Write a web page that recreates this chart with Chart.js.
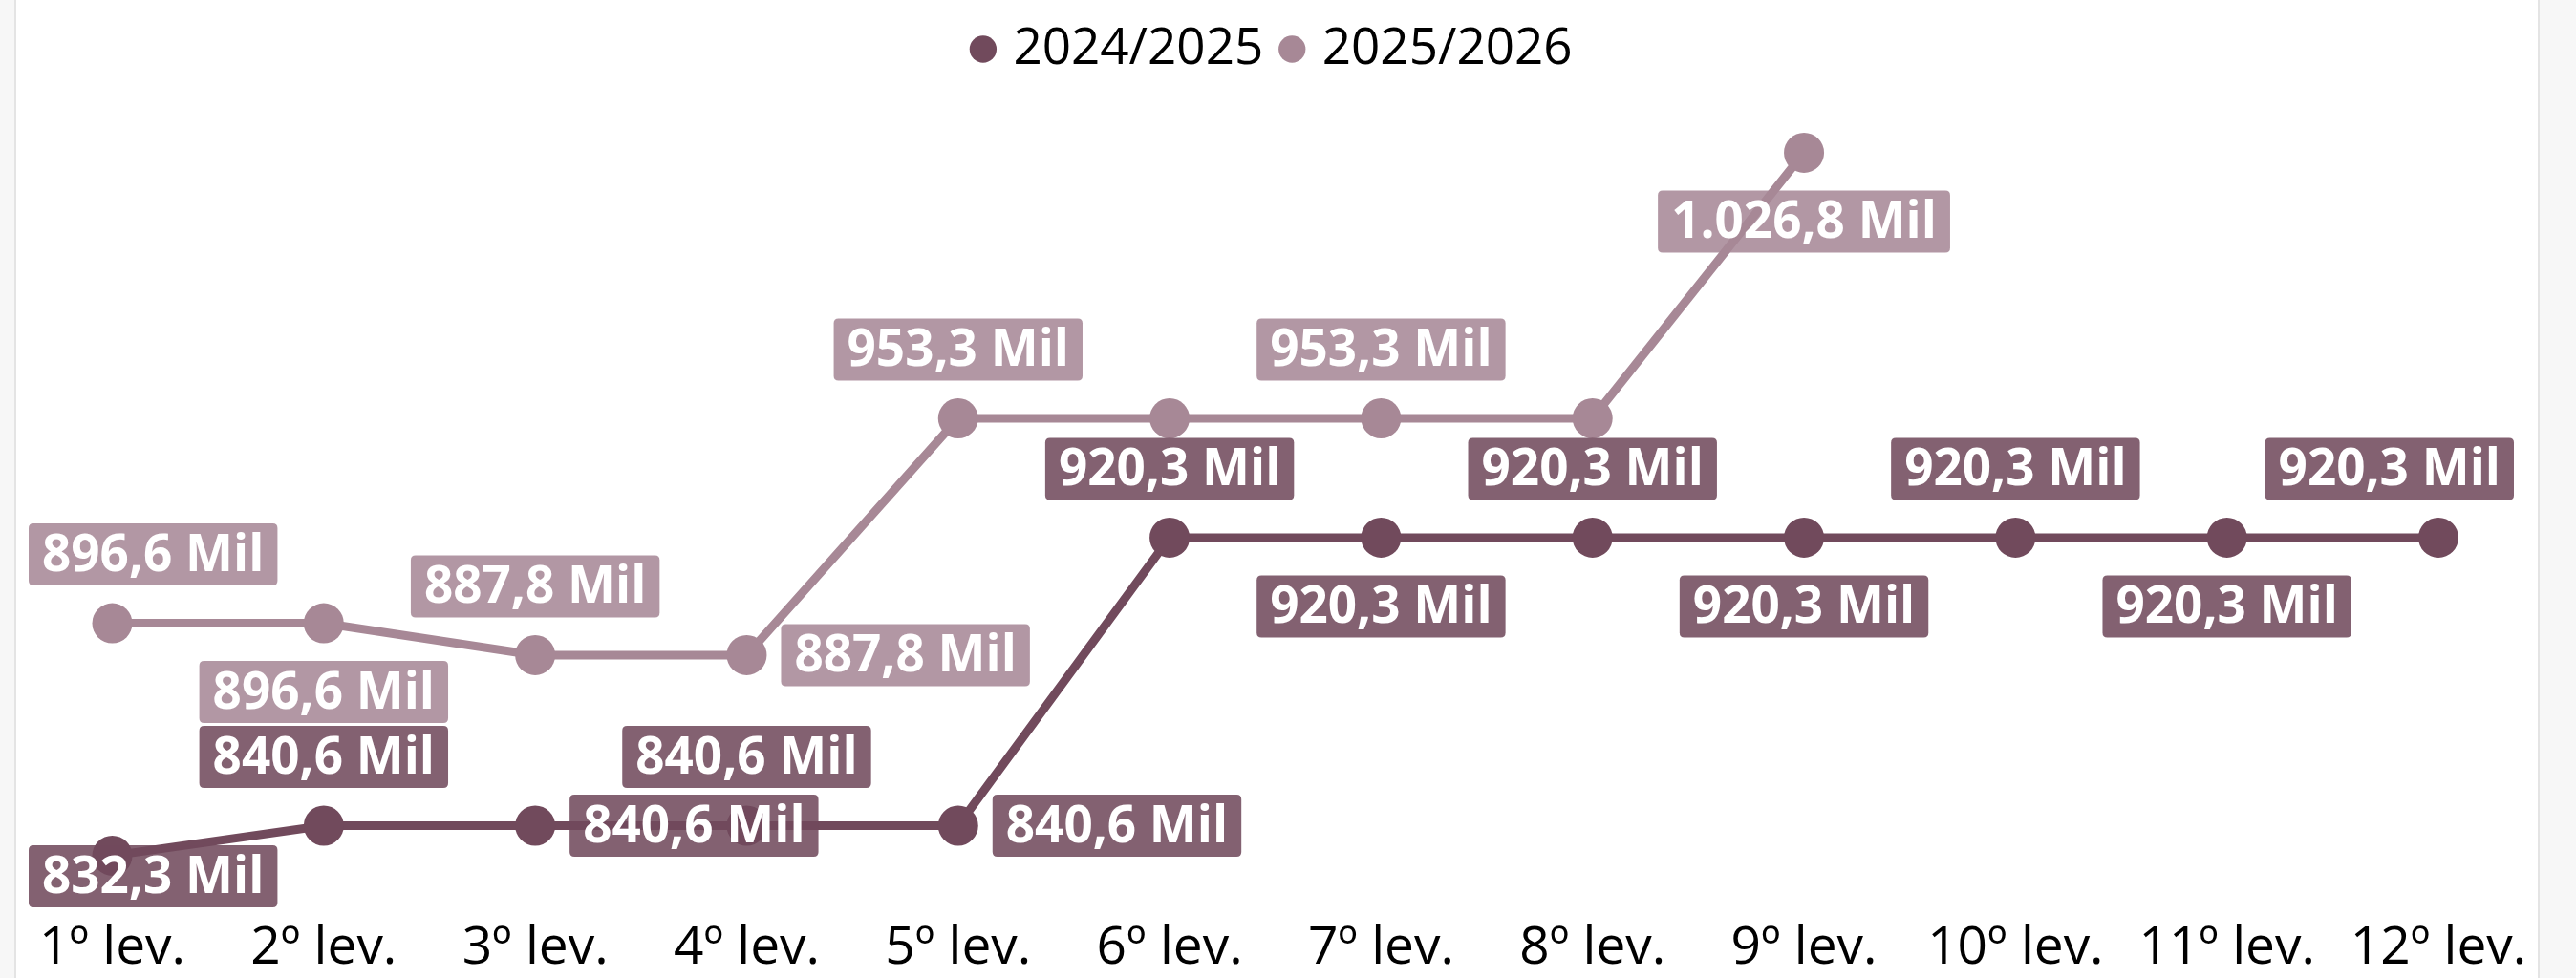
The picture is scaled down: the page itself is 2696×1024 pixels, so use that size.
<!DOCTYPE html>
<html>
<head>
<meta charset="utf-8">
<script src="https://cdn.jsdelivr.net/npm/chart.js@4.4.1/dist/chart.umd.min.js"></script>
<style>
    html, body { margin: 0; padding: 0; background: #f7f7f7; }
    #painel {
        position: absolute; left: 15px; top: 0; width: 2639px; height: 1024px;
        background: #fff; border-left: 2px solid #e4e4e4; border-right: 2px solid #e4e4e4;
    }
    #area { position: absolute; left: 0; top: 0; width: 2696px; height: 1024px; }
</style>
</head>
<body>
<div id="painel"></div>
<div id="area"><canvas id="grafico"></canvas></div>
<script>
// Dados
const levantamentos = ['1º lev.', '2º lev.', '3º lev.', '4º lev.', '5º lev.', '6º lev.',
    '7º lev.', '8º lev.', '9º lev.', '10º lev.', '11º lev.', '12º lev.'];
const safra2425 = [832.3, 840.6, 840.6, 840.6, 840.6, 920.3, 920.3, 920.3, 920.3, 920.3, 920.3, 920.3];
const safra2526 = [896.6, 896.6, 887.8, 887.8, 953.3, 953.3, 953.3, 953.3, 1026.8];

// Onde cada rótulo fica em relação ao ponto (null = rótulo oculto)
const rotulos2425 = ['below', 'above', 'right', 'above', 'right', 'above', 'below', 'above', 'below', 'above', 'below', 'above'];
const rotulos2526 = ['above', 'below', 'above', 'right', 'above', null, 'above', null, 'below'];

const corEscura = '#714a5c';
const corClara = '#a78896';
const caixaEscura = 'rgba(113, 74, 92, 0.87)';
const caixaClara = 'rgba(167, 136, 150, 0.87)';
const fonte = '"Open Sans", "Noto Sans", sans-serif';

// Formata no padrão brasileiro: 1.026,8 Mil
function formatarMil(v) {
    const partes = v.toFixed(1).split('.');
    const inteiro = partes[0].replace(/\B(?=(\d{3})+(?!\d))/g, '.');
    return inteiro + ',' + partes[1] + ' Mil';
}

function caixaArredondada(ctx, x, y, w, h, r) {
    ctx.beginPath();
    ctx.moveTo(x + r, y);
    ctx.lineTo(x + w - r, y);
    ctx.quadraticCurveTo(x + w, y, x + w, y + r);
    ctx.lineTo(x + w, y + h - r);
    ctx.quadraticCurveTo(x + w, y + h, x + w - r, y + h);
    ctx.lineTo(x + r, y + h);
    ctx.quadraticCurveTo(x, y + h, x, y + h - r);
    ctx.lineTo(x, y + r);
    ctx.quadraticCurveTo(x, y, x + r, y);
    ctx.closePath();
}

// Rótulos de dados no estilo Power BI
const pluginRotulos = {
    id: 'rotulos',
    afterDatasetsDraw(chart) {
        const ctx = chart.ctx;
        const area = chart.chartArea;
        const posicoes = [rotulos2425, rotulos2526];
        const caixas = [caixaEscura, caixaClara];
        ctx.save();
        ctx.font = 'bold 53px ' + fonte;
        ctx.textAlign = 'center';
        ctx.textBaseline = 'middle';
        chart.data.datasets.forEach((ds, di) => {
            const meta = chart.getDatasetMeta(di);
            meta.data.forEach((pt, i) => {
                const onde = posicoes[di][i];
                if (!onde) return;
                const texto = formatarMil(ds.data[i]);
                const w = ctx.measureText(texto).width + 28;
                const h = 65;
                let cx = pt.x, cy = pt.y;
                if (onde === 'above') cy = pt.y - 72;
                if (onde === 'below') cy = pt.y + 72;
                if (onde === 'right') cx = pt.x + 36 + w / 2;
                let x0 = Math.max(30, Math.min(cx - w / 2, 2631 - w));
                let y0 = Math.min(cy - h / 2, area.bottom - h);
                caixaArredondada(ctx, x0, y0, w, h, 5);
                ctx.fillStyle = caixas[di];
                ctx.fill();
                ctx.fillStyle = '#ffffff';
                ctx.fillText(texto, x0 + w / 2, y0 + h / 2 + 2);
            });
        });
        ctx.restore();
    }
};

const grafico = new Chart(document.getElementById('grafico'), {
    type: 'line',
    data: {
        labels: levantamentos,
        datasets: [{
            label: '2024/2025',
            data: safra2425,
            borderColor: corEscura,
            backgroundColor: corEscura,
            pointBackgroundColor: corEscura,
            pointBorderWidth: 0,
            pointRadius: 21,
            borderWidth: 9,
            clip: false
        }, {
            label: '2025/2026',
            data: safra2526,
            borderColor: corClara,
            backgroundColor: corClara,
            pointBackgroundColor: corClara,
            pointBorderWidth: 0,
            pointRadius: 21,
            borderWidth: 9,
            clip: false
        }]
    },
    options: {
        responsive: true,
        maintainAspectRatio: false,
        animation: false,
        layout: {
            padding: { left: 117.5, right: 144, top: 0, bottom: 0 }
        },
        plugins: {
            tooltip: { enabled: false },
            legend: {
                position: 'top',
                labels: {
                    usePointStyle: true,
                    pointStyle: 'circle',
                    boxWidth: 10,
                    boxHeight: 20,
                    padding: 25,
                    color: '#000',
                    font: { family: fonte, size: 53 }
                }
            }
        },
        scales: {
            x: {
                grid: { display: false, drawTicks: false },
                border: { display: false },
                ticks: {
                    color: '#000',
                    padding: 10,
                    autoSkip: false,
                    maxRotation: 0,
                    font: { family: fonte, size: 55 }
                },
                afterFit(scale) { scale.height = 74; }
            },
            y: {
                display: false,
                min: 818,
                max: 1045.8
            }
        }
    },
    plugins: [pluginRotulos]
});
</script>
</body>
</html>
